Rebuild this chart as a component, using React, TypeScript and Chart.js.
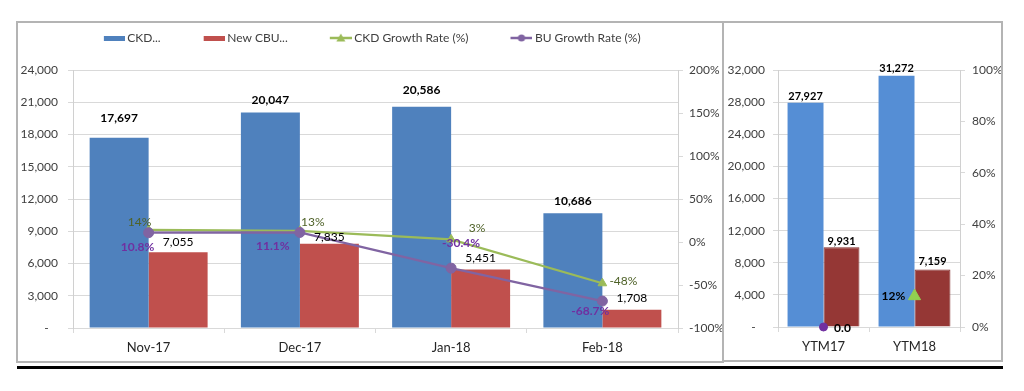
import React, { useEffect, useRef } from "react";
import { Chart, registerables } from "chart.js";

Chart.register(...registerables);

// ---------- data ----------
const monthLabels = ["Nov-17", "Dec-17", "Jan-18", "Feb-18"];
const ckdUnits = [17697, 20047, 20586, 10686];
const newCbuUnits = [7055, 7835, 5451, 1708];
const ckdGrowthPct = [14, 13, 3, -48];
const buGrowthPct = [10.8, 11.1, -30.4, -68.7];

const ytmLabels = ["YTM17", "YTM18"];
const ytmCkdUnits = [27927, 31272];
const ytmNewCbuUnits = [9931, 7159];
const ytmCkdGrowthPct = [null, 12];
const ytmBuGrowthPct = [0, null];

const legendNames = ["CKD...", "New CBU...", "CKD Growth Rate (%)", "BU Growth Rate (%)"];

const FONT = "Lato, 'Open Sans', sans-serif";

const fmtInt = (v: number) => Number(v).toLocaleString("en-US");
const unitTick = (v: any) => (Number(v) === 0 ? "-   " : Number(v).toLocaleString("en-US"));

// draws value labels next to bars / points
const valueLabels = {
  id: "valueLabels",
  afterDatasetsDraw(chart: any) {
    const ctx = chart.ctx;
    chart.data.datasets.forEach((ds: any, i: number) => {
      const cfg = ds.valueLabel;
      if (!cfg) return;
      const meta = chart.getDatasetMeta(i);
      meta.data.forEach((el: any, j: number) => {
        const v = ds.data[j];
        if (v === null || v === undefined) return;
        const off = cfg.offsets ? cfg.offsets[j] : [0, -10];
        ctx.save();
        ctx.font = cfg.font;
        ctx.fillStyle = cfg.color;
        ctx.textAlign = "center";
        ctx.textBaseline = "middle";
        ctx.fillText(cfg.format(v), el.x + off[0], el.y + off[1]);
        ctx.restore();
      });
    });
  },
};

function makeIcon(kind: string, color: string) {
  const c = document.createElement("canvas");
  c.width = 29;
  c.height = 12;
  const g = c.getContext("2d")!;
  g.fillStyle = color;
  g.strokeStyle = color;
  if (kind === "rect") {
    g.fillRect(8, 4, 21, 5);
  } else {
    g.lineWidth = 2.5;
    g.beginPath();
    g.moveTo(7, 6);
    g.lineTo(29, 6);
    g.stroke();
    g.beginPath();
    if (kind === "tri") {
      g.moveTo(18, 1.5);
      g.lineTo(22.5, 9.5);
      g.lineTo(13.5, 9.5);
      g.closePath();
    } else {
      g.arc(18, 6, 3.6, 0, Math.PI * 2);
    }
    g.fill();
  }
  return c;
}

export default function App() {
  const leftRef = useRef<HTMLCanvasElement | null>(null);
  const rightRef = useRef<HTMLCanvasElement | null>(null);

  useEffect(() => {
    const icons = [
      makeIcon("rect", "#4f81bd"),
      makeIcon("rect", "#c0504d"),
      makeIcon("tri", "#9bbb59"),
      makeIcon("circle", "#8064a2"),
    ];

    const left = new Chart(leftRef.current!, {
      type: "bar",
      data: {
        labels: monthLabels,
        datasets: [
          {
            type: "bar",
            label: legendNames[0],
            data: ckdUnits,
            backgroundColor: "#4f81bd",
            yAxisID: "y",
            order: 2,
            valueLabel: {
              font: `bold 12px ${FONT}`,
              color: "#000",
              offsets: [[0, -20], [0, -12], [0, -17], [0, -12]],
              format: fmtInt,
            },
          } as any,
          {
            type: "bar",
            label: legendNames[1],
            data: newCbuUnits,
            backgroundColor: "#c0504d",
            yAxisID: "y",
            order: 2,
            valueLabel: {
              font: `12px ${FONT}`,
              color: "#000",
              offsets: [[0, -10], [0, -7], [0, -11], [0, -12]],
              format: fmtInt,
            },
          } as any,
          {
            type: "line",
            label: legendNames[2],
            data: ckdGrowthPct,
            borderColor: "#9bbb59",
            backgroundColor: "#9bbb59",
            borderWidth: 2.25,
            pointStyle: "triangle",
            pointRadius: 5,
            pointBorderWidth: 1,
            tension: 0,
            clip: false,
            yAxisID: "y1",
            order: 1,
            valueLabel: {
              font: `12px ${FONT}`,
              color: "#4f6228",
              offsets: [[-9, -8], [13, -9], [26, -11], [21, -2]],
              format: (v: number) => `${v}%`,
            },
          } as any,
          {
            type: "line",
            label: legendNames[3],
            data: buGrowthPct,
            borderColor: "#8064a2",
            backgroundColor: "#8064a2",
            borderWidth: 2.25,
            pointStyle: "circle",
            pointRadius: 5,
            pointBorderWidth: 1,
            tension: 0,
            clip: false,
            yAxisID: "y1",
            order: 0,
            valueLabel: {
              font: `bold 12px ${FONT}`,
              color: "#7030a0",
              offsets: [[-11, 14], [-27, 14], [10, -25], [-12, 10]],
              format: (v: number) => `${v.toFixed(1)}%`,
            },
          } as any,
        ],
      },
      options: {
        responsive: false,
        animation: false,
        layout: { padding: { top: -29.5, left: 0, right: 0, bottom: 0 } },
        datasets: { bar: { categoryPercentage: 0.78, barPercentage: 1 } } as any,
        plugins: {
          tooltip: { enabled: false },
          legend: {
            display: true,
            position: "top",
            labels: {
              usePointStyle: true,
              pointStyleWidth: 22,
              padding: 38.5,
              color: "#404040",
              font: { family: FONT, size: 12 },
              generateLabels: (chart: any) =>
                chart.data.datasets.map((ds: any, i: number) => ({
                  text: ds.label,
                  pointStyle: icons[i],
                  fillStyle: "rgba(0,0,0,0)",
                  strokeStyle: "rgba(0,0,0,0)",
                  lineWidth: 0,
                  hidden: false,
                  datasetIndex: i,
                  fontColor: "#404040",
                })),
            },
          },
          title: {
            display: true,
            text: "",
            weight: 500,
            font: { size: 1 },
            padding: { top: 14.8, bottom: 0 },
          } as any,
        },
        scales: {
          x: {
            grid: {
              display: true,
              drawOnChartArea: false,
              drawTicks: true,
              tickLength: 5,
              color: "#d9d9d9",
              offset: true,
            },
            border: { display: true, color: "#d9d9d9" },
            ticks: { color: "#262626", font: { family: FONT, size: 13 }, padding: 7 },
            afterFit: (s: any) => {
              s.height = 33;
            },
          },
          y: {
            position: "left",
            min: 0,
            max: 24000,
            ticks: {
              stepSize: 3000,
              callback: unitTick,
              color: "#404040",
              font: { family: FONT, size: 12 },
              padding: 10,
            },
            grid: { color: "#d9d9d9", tickLength: 5 },
            border: { color: "#d0d0d0" },
            afterFit: (s: any) => {
              s.width = 55;
            },
          },
          y1: {
            position: "right",
            min: -100,
            max: 200,
            ticks: {
              stepSize: 50,
              callback: (v: any) => `${v}%`,
              color: "#404040",
              font: { family: FONT, size: 12 },
              padding: 6,
            },
            grid: { drawOnChartArea: false, color: "#d9d9d9", tickLength: 5 },
            border: { color: "#d0d0d0" },
            afterFit: (s: any) => {
              s.width = 44;
            },
          },
        },
      } as any,
      plugins: [valueLabels],
    });

    const right = new Chart(rightRef.current!, {
      type: "bar",
      data: {
        labels: ytmLabels,
        datasets: [
          {
            type: "bar",
            label: legendNames[0],
            data: ytmCkdUnits,
            backgroundColor: "#558ed5",
            yAxisID: "y",
            order: 2,
            valueLabel: {
              font: `bold 11px ${FONT}`,
              color: "#000",
              offsets: [[0, -6], [0, -7]],
              format: fmtInt,
            },
          } as any,
          {
            type: "bar",
            label: legendNames[1],
            data: ytmNewCbuUnits,
            backgroundColor: "#953735",
            borderColor: "#7f2b29",
            borderWidth: 1,
            yAxisID: "y",
            order: 2,
            valueLabel: {
              font: `bold 11px ${FONT}`,
              color: "#000",
              offsets: [[0, -6], [0, -8]],
              format: fmtInt,
            },
          } as any,
          {
            type: "line",
            label: legendNames[2],
            data: ytmCkdGrowthPct,
            borderColor: "#92d050",
            backgroundColor: "#92d050",
            borderWidth: 2,
            pointStyle: "triangle",
            pointRadius: 7,
            pointBorderWidth: 1,
            clip: false,
            yAxisID: "y1",
            order: 1,
            valueLabel: {
              font: `bold 12px ${FONT}`,
              color: "#000",
              offsets: [[0, 0], [-21, 0]],
              format: (v: number) => `${v}%`,
            },
          } as any,
          {
            type: "line",
            label: legendNames[3],
            data: ytmBuGrowthPct,
            borderColor: "#7030a0",
            backgroundColor: "#7030a0",
            borderWidth: 2,
            pointStyle: "circle",
            pointRadius: 4,
            pointBorderWidth: 1,
            clip: false,
            yAxisID: "y1",
            order: 0,
            valueLabel: {
              font: `bold 12px ${FONT}`,
              color: "#000",
              offsets: [[19, 1], [0, 0]],
              format: (v: number) => v.toFixed(1),
            },
          } as any,
        ],
      },
      options: {
        responsive: false,
        animation: false,
        layout: { padding: { top: 47, left: 0, right: 0, bottom: 0 } },
        datasets: { bar: { categoryPercentage: 0.79, barPercentage: 1 } } as any,
        plugins: {
          tooltip: { enabled: false },
          legend: { display: false },
          title: { display: false },
        },
        scales: {
          x: {
            grid: {
              display: true,
              drawOnChartArea: false,
              drawTicks: true,
              tickLength: 5,
              color: "#d9d9d9",
              offset: true,
            },
            border: { display: true, color: "#d9d9d9" },
            ticks: { color: "#262626", font: { family: FONT, size: 13 }, padding: 7 },
            afterFit: (s: any) => {
              s.height = 32;
            },
          },
          y: {
            position: "left",
            min: 0,
            max: 32000,
            ticks: {
              stepSize: 4000,
              callback: unitTick,
              color: "#404040",
              font: { family: FONT, size: 12 },
              padding: 8,
            },
            grid: { color: "#d9d9d9", tickLength: 5 },
            border: { color: "#d0d0d0" },
            afterFit: (s: any) => {
              s.width = 53;
            },
          },
          y1: {
            position: "right",
            min: 0,
            max: 100,
            ticks: {
              stepSize: 20,
              callback: (v: any) => `${v}%`,
              color: "#404040",
              font: { family: FONT, size: 12 },
              padding: 7,
            },
            grid: { drawOnChartArea: false, color: "#d9d9d9", tickLength: 5 },
            border: { color: "#d0d0d0" },
            afterFit: (s: any) => {
              s.width = 41;
            },
          },
        },
      } as any,
      plugins: [valueLabels],
    });

    return () => {
      left.destroy();
      right.destroy();
    };
  }, []);

  return (
    <div
      style={{
        position: "absolute",
        left: 0,
        top: 0,
        width: 1024,
        height: 391,
        background: "#fff",
        overflow: "hidden",
      }}
    >
      <div
        style={{
          position: "absolute",
          left: 16,
          top: 21,
          width: 708,
          height: 342,
          boxSizing: "border-box",
          border: "2px solid #b4b4b4",
        }}
      />
      <div
        style={{
          position: "absolute",
          left: 722,
          top: 21,
          width: 281,
          height: 341,
          boxSizing: "border-box",
          border: "2px solid #b4b4b4",
        }}
      />
      <div
        style={{
          position: "absolute",
          left: 17,
          top: 366,
          width: 986,
          height: 3,
          background: "#000",
        }}
      />
      <canvas
        ref={leftRef}
        width={704}
        height={338}
        style={{ position: "absolute", left: 18, top: 23 }}
      />
      <canvas
        ref={rightRef}
        width={276}
        height={336}
        style={{ position: "absolute", left: 725, top: 23 }}
      />
    </div>
  );
}
